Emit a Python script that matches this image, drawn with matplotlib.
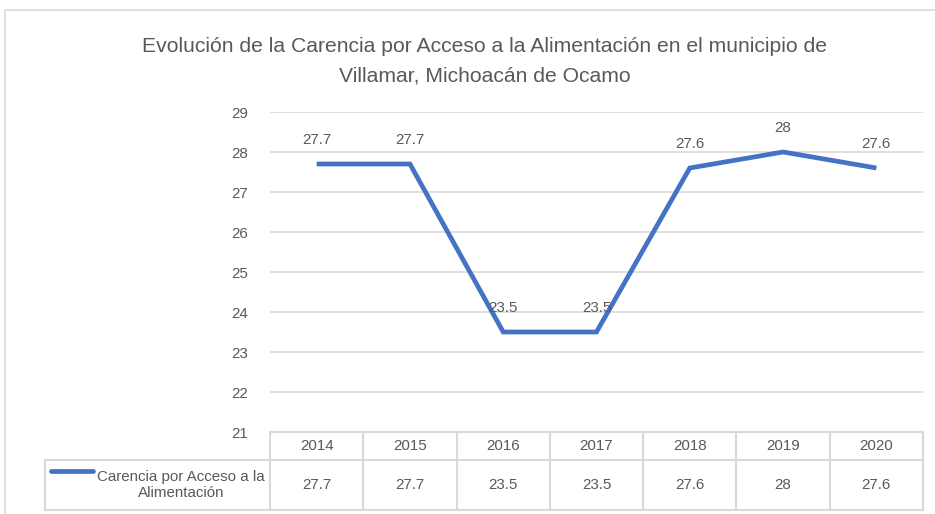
import matplotlib.pyplot as plt
from matplotlib.lines import Line2D
from matplotlib.patches import Rectangle

years = ['2014', '2015', '2016', '2017', '2018', '2019', '2020']
carencia = [27.7, 27.7, 23.5, 23.5, 27.6, 28, 27.6]
value_labels = ['27.7', '27.7', '23.5', '23.5', '27.6', '28', '27.6']
y_ticks = [21, 22, 23, 24, 25, 26, 27, 28, 29]

TEXT = '#595959'
GRID = '#D9D9D9'
BLUE = '#4472C4'
FONT = ['Liberation Sans', 'DejaVu Sans']
FS = 10.9

plt.rcParams['font.family'] = FONT


def main() -> None:
    W, H = 935, 514
    fig = plt.figure(figsize=(W / 100, H / 100), dpi=100)

    # chart border
    fig.patches.append(Rectangle((5 / W, -0.1), 1.2, 1 - 10 / H + 0.1,
                                 transform=fig.transFigure, fill=False,
                                 edgecolor=GRID, lw=1.2))

    left, right, top, bottom = 270, 923, 112, 432
    ax = fig.add_axes([left / W, 1 - bottom / H, (right - left) / W, (bottom - top) / H])
    x = list(range(len(years)))
    ax.plot(x, carencia, color=BLUE, lw=3.4, solid_capstyle='butt', solid_joinstyle='miter')
    for xi, v, lab in zip(x, carencia, value_labels):
        ax.annotate(lab, (xi, v), xytext=(0, 17), textcoords='offset points',
                    ha='center', va='center', fontsize=FS, color=TEXT)

    ax.set_xlim(-0.5, len(years) - 0.5)
    ax.set_ylim(21, 29)
    ax.set_yticks(y_ticks)
    ax.set_yticklabels([str(t) for t in y_ticks])
    ax.set_xticks([])
    ax.tick_params(axis='y', length=0, pad=16, labelsize=FS, labelcolor=TEXT)
    ax.grid(axis='y', color=GRID, lw=1.2)
    ax.set_axisbelow(True)
    for s in ax.spines.values():
        s.set_visible(False)

    # data table below the axes (in pixel based figure coords)
    def fx(px):
        return px / W

    def fy(py):
        return 1 - py / H

    row1, row2, row3 = 432, 460, 510
    col_w = (right - left) / len(years)
    legend_left = 45
    lines = [
        ((left, right), (row1, row1)),
        ((legend_left, right), (row2, row2)),
        ((legend_left, right), (row3, row3)),
        ((legend_left, legend_left), (row2, row3)),
    ]
    for i in range(len(years) + 1):
        xc = left + i * col_w
        lines.append(((xc, xc), (row1, row3)))
    for xs, ys in lines:
        fig.add_artist(Line2D([fx(p) for p in xs], [fy(p) for p in ys],
                              color=GRID, lw=1.5, transform=fig.transFigure))

    for i, (yr, lab) in enumerate(zip(years, value_labels)):
        xc = fx(left + (i + 0.5) * col_w)
        fig.text(xc, fy((row1 + row2) / 2), yr, ha='center', va='center',
                 fontsize=FS, color=TEXT)
        fig.text(xc, fy((row2 + row3) / 2), lab, ha='center', va='center',
                 fontsize=FS, color=TEXT)

    # legend key inside the table
    fig.add_artist(Line2D([fx(51), fx(93)], [fy(471), fy(471)], color=BLUE, lw=3.4,
                          solid_capstyle='round', transform=fig.transFigure))
    fig.text(fx(181), fy(485), 'Carencia por Acceso a la\nAlimentación', ha='center',
             va='center', fontsize=FS, color=TEXT, linespacing=1.1)

    fig.text(fx(485), fy(47), 'Evolución de la Carencia por Acceso a la Alimentación en el municipio de',
             ha='center', va='center', fontsize=15.2, color=TEXT)
    fig.text(fx(485), fy(76), 'Villamar, Michoacán de Ocamo',
             ha='center', va='center', fontsize=15.2, color=TEXT)

    fig.savefig('out.png', dpi=100, facecolor='white')


if __name__ == '__main__':
    main()
